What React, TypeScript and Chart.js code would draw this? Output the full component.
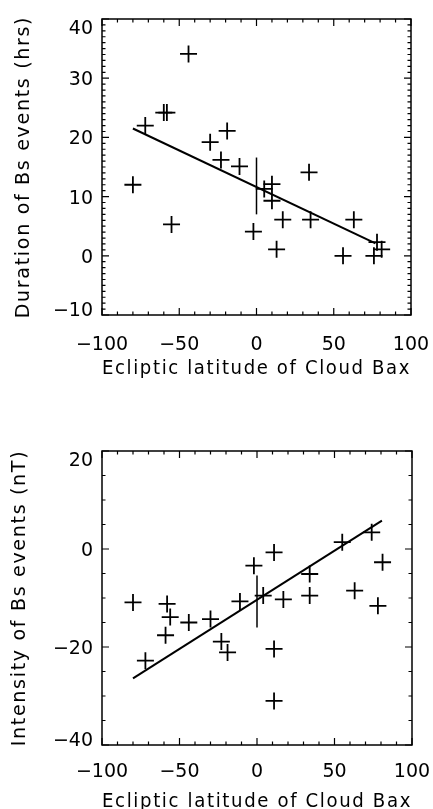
import React, { useEffect, useRef } from 'react';
import { Chart, registerables } from 'chart.js';
Chart.register(...registerables);

const FONT = "'DejaVu Sans', sans-serif";
const FS = 19;
const TITLE_SPACING = '1.7px';

// shared x axis
const xTickValues = [-100, -50, 0, 50, 100];
const xTitle = 'Ecliptic latitude of Cloud Bax';

// top panel: duration of Bs events
const durLat = [-80, -72, -60, -58, -55, -44, -30, -23, -19, -11, -2, 5, 10, 10, 13, 17, 34, 35, 56, 63, 76, 78, 81];
const durHrs = [12, 22, 24.2, 24.2, 5.3, 34.1, 19.2, 16.2, 21.1, 15.1, 4.1, 11.3, 12.1, 9.3, 1.1, 6.1, 14.1, 6.1, 0, 6.1, 0, 2.3, 1.1];
const durFitX = [-80, 77];
const durFitY = [21.5, 2.1];
const durErrX = [0, 0];
const durErrY = [7.0, 16.6];
const durYTicks = [-10, 0, 10, 20, 30, 40];
const durTitle = 'Duration of Bs events (hrs)';

// bottom panel: intensity of Bs events
const intLat = [-80, -72, -58, -56, -59, -44, -30, -23, -19, -11, -2, 4, 11, 11, 11, 17, 34, 34, 55, 63, 74, 78, 81];
const intNT = [-10.9, -22.8, -11.2, -13.9, -17.6, -15, -14.3, -18.9, -21.1, -10.7, -3.4, -9.5, -0.7, -20.4, -31, -10.3, -5.1, -9.5, 1.4, -8.5, 3.4, -11.6, -2.7];
const intFitX = [-80, 80.6];
const intFitY = [-26.4, 5.8];
const intErrX = [0, 0];
const intErrY = [-16, -5.4];
const intYTicks = [-40, -20, 0, 20];
const intTitle = 'Intensity of Bs events (nT)';

const fmt = (v: number) => (v < 0 ? '\u2212' + Math.abs(v) : String(v));
const pts = (xs: number[], ys: number[]) => xs.map((x, i) => ({ x, y: ys[i] }));

// widen axis titles a little (letter spacing), as in the original typeface
function spaceTitle(s: any) {
  if (s.__spaced) return;
  s.__spaced = true;
  const orig = s.drawTitle.bind(s);
  s.drawTitle = () => {
    const ctx = s.ctx;
    const prev = ctx.letterSpacing;
    ctx.letterSpacing = TITLE_SPACING;
    orig();
    ctx.letterSpacing = prev || '0px';
  };
}

const framePlugin = {
  id: 'frame',
  afterDraw(chart: any, _args: any, opts: any) {
    const { ctx, chartArea: a } = chart;
    const x = chart.scales.x;
    const y = chart.scales.y;
    ctx.save();
    ctx.letterSpacing = '0px';
    ctx.strokeStyle = '#000';
    ctx.lineWidth = 1.5;
    ctx.strokeRect(a.left, a.top, a.right - a.left, a.bottom - a.top);
    ctx.lineWidth = 1.2;
    ctx.beginPath();
    const nx = Math.round((x.max - x.min) / opts.xMinor);
    for (let i = 0; i <= nx; i++) {
      const v = x.min + i * opts.xMinor;
      const px = x.getPixelForValue(v);
      const len = Math.abs(v % opts.xMajor) < 1e-6 ? 7 : 3.5;
      ctx.moveTo(px, a.bottom);
      ctx.lineTo(px, a.bottom - len);
      ctx.moveTo(px, a.top);
      ctx.lineTo(px, a.top + len);
    }
    const ny = Math.round((y.max - y.min) / opts.yMinor);
    for (let i = 0; i <= ny; i++) {
      const v = y.min + i * opts.yMinor;
      const py = y.getPixelForValue(v);
      const len = Math.abs(v % opts.yMajor) < 1e-6 ? 7 : 3.5;
      ctx.moveTo(a.left, py);
      ctx.lineTo(a.left + len, py);
      ctx.moveTo(a.right, py);
      ctx.lineTo(a.right - len, py);
    }
    ctx.stroke();
    ctx.fillStyle = '#000';
    ctx.font = `${FS}px ${FONT}`;
    ctx.textAlign = 'right';
    ctx.textBaseline = 'alphabetic';
    const cap = 0.729 * FS;
    for (const v of opts.yLabels) {
      let cy = y.getPixelForValue(v);
      cy = Math.max(a.top + 1.5 + cap / 2, Math.min(a.bottom + 1 - cap / 2, cy));
      ctx.fillText(fmt(v), a.left - 9, cy + cap / 2);
    }
    ctx.restore();
  },
};

type PanelProps = {
  top: number;
  height: number;
  padTop: number;
  padRight: number;
  xAxisH: number;
  lat: number[];
  val: number[];
  fitX: number[];
  fitY: number[];
  errX: number[];
  errY: number[];
  yTicks: number[];
  yMinor: number;
  yMajor: number;
  yTitle: string;
  yTitlePad: number;
  xTitlePad: number;
  xTickGap: number;
};

function Panel(p: PanelProps) {
  const ref = useRef<HTMLCanvasElement>(null);
  useEffect(() => {
    if (!ref.current) return;
    const font = { family: FONT, size: FS, lineHeight: 1.2 };
    const chart = new Chart(ref.current, {
      type: 'scatter',
      data: {
        datasets: [
          {
            data: pts(p.lat, p.val),
            pointStyle: 'cross',
            pointRadius: 8.5,
            pointBorderWidth: 1.8,
            borderColor: '#000',
            backgroundColor: '#000',
            showLine: false,
          } as any,
          {
            data: pts(p.fitX, p.fitY),
            showLine: true,
            pointRadius: 0,
            borderColor: '#000',
            borderWidth: 2,
          },
          {
            data: pts(p.errX, p.errY),
            showLine: true,
            pointRadius: 0,
            borderColor: '#000',
            borderWidth: 1.5,
          },
        ],
      },
      options: {
        animation: false,
        responsive: false,
        events: [],
        layout: { padding: { left: 0, top: p.padTop, right: p.padRight, bottom: 0 } },
        plugins: {
          legend: { display: false },
          tooltip: { enabled: false },
          frame: { xMinor: 10, xMajor: 50, yMinor: p.yMinor, yMajor: p.yMajor, yLabels: p.yTicks },
        } as any,
        scales: {
          x: {
            type: 'linear',
            min: -100,
            max: 100,
            afterBuildTicks: (s: any) => {
              s.ticks = xTickValues.map((v) => ({ value: v }));
            },
            afterFit: (s: any) => {
              s.height = p.xAxisH;
              spaceTitle(s);
            },
            grid: { display: false, drawTicks: true, tickLength: p.xTickGap },
            border: { display: false },
            ticks: {
              color: '#000',
              font,
              padding: 0,
              maxRotation: 0,
              autoSkip: false,
              callback: (v: any) => fmt(Number(v)),
            },
            title: { display: true, text: xTitle, color: '#000', font, padding: { top: 0, bottom: p.xTitlePad } },
          },
          y: {
            type: 'linear',
            min: p.yTicks[0],
            max: p.yTicks[p.yTicks.length - 1],
            afterFit: (s: any) => {
              s.width = 102;
              spaceTitle(s);
            },
            grid: { display: false, drawTicks: false, tickLength: 0 },
            border: { display: false },
            ticks: { display: false },
            title: { display: true, text: p.yTitle, color: '#000', font, padding: { top: p.yTitlePad, bottom: 0 } },
          },
        },
      },
      plugins: [framePlugin],
    });
    return () => chart.destroy();
  }, []);
  return (
    <canvas
      ref={ref}
      width={433}
      height={p.height}
      style={{ position: 'absolute', left: 0, top: p.top, width: 433, height: p.height }}
    />
  );
}

export default function App() {
  return (
    <div style={{ position: 'fixed', left: 0, top: 0, width: 433, height: 809, overflow: 'hidden', background: '#fff' }}>
      <Panel
        top={0}
        height={400}
        padTop={19}
        padRight={22}
        xAxisH={85}
        lat={durLat}
        val={durHrs}
        fitX={durFitX}
        fitY={durFitY}
        errX={durErrX}
        errY={durErrY}
        yTicks={durYTicks}
        yMinor={1}
        yMajor={10}
        yTitle={durTitle}
        yTitlePad={13}
        xTitlePad={20}
        xTickGap={19}
      />
      <Panel
        top={400}
        height={430}
        padTop={51}
        padRight={21}
        xAxisH={85}
        lat={intLat}
        val={intNT}
        fitX={intFitX}
        fitY={intFitY}
        errX={intErrX}
        errY={intErrY}
        yTicks={intYTicks}
        yMinor={5}
        yMajor={20}
        yTitle={intTitle}
        yTitlePad={9}
        xTitlePad={17}
        xTickGap={15.5}
      />
    </div>
  );
}
